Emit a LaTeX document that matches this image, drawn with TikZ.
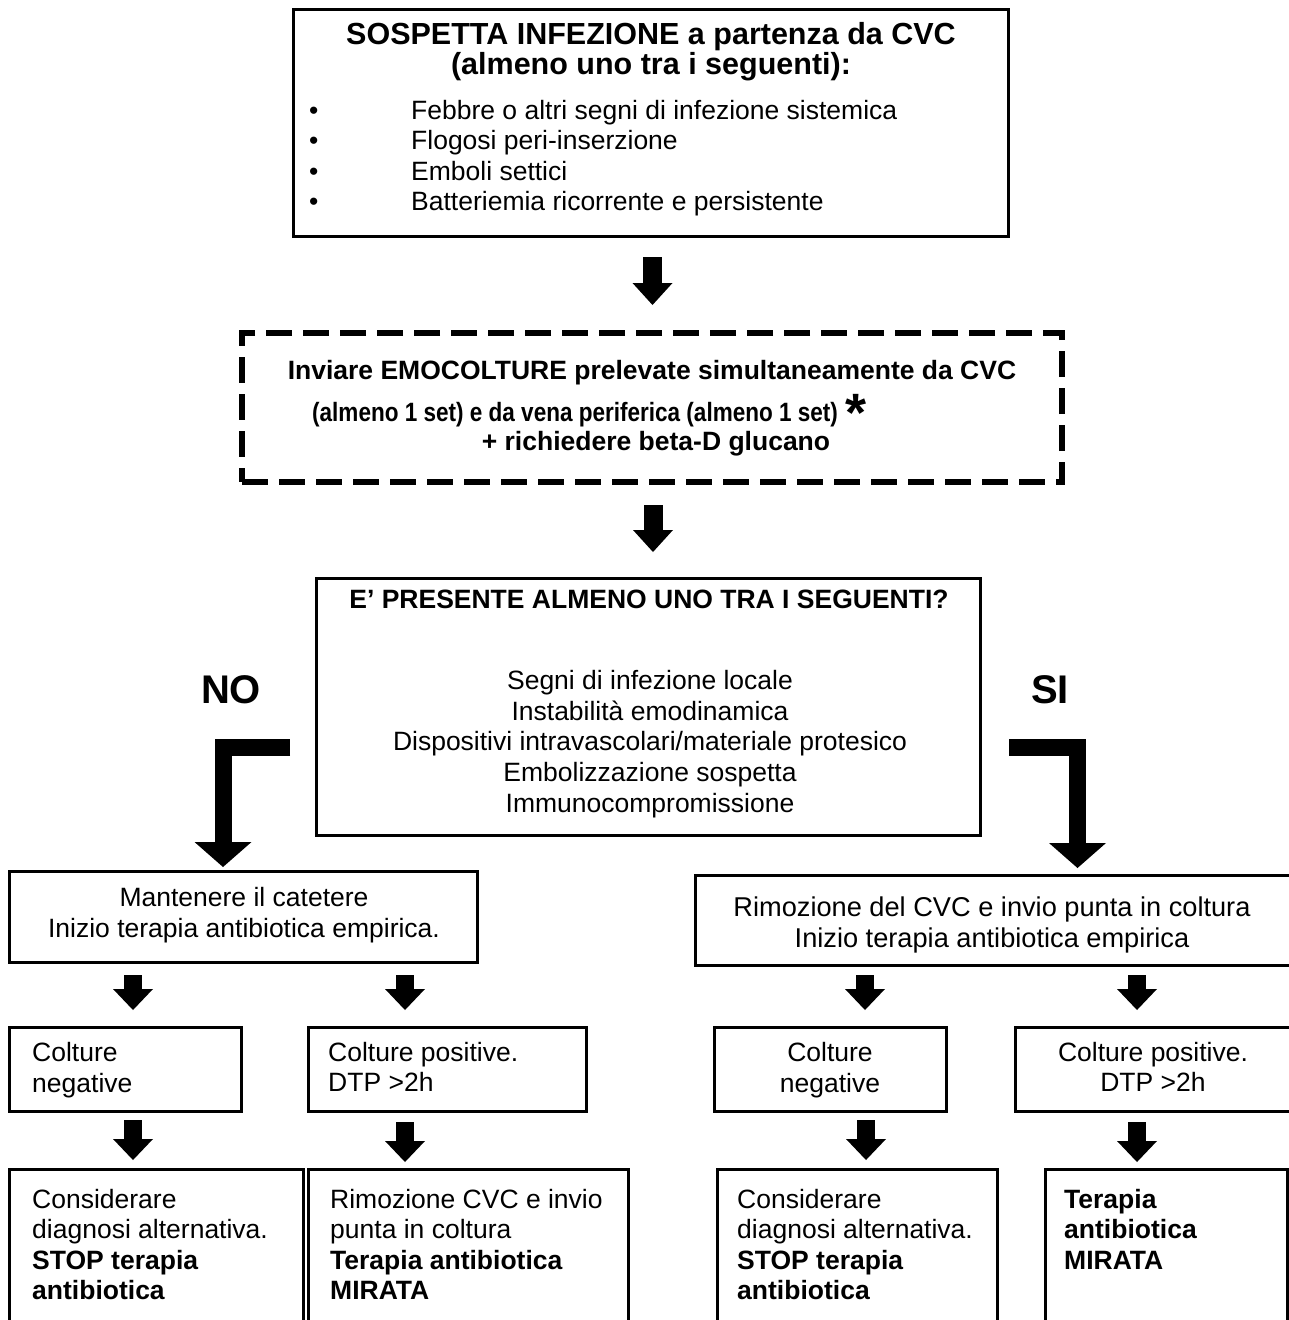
\documentclass[tikz,border=0pt]{standalone}
\usepackage{fontspec}
\setmainfont{Liberation Sans}
\newfontfamily\condfont[FakeStretch=0.85]{Liberation Sans}
\usetikzlibrary{arrows.meta}
\newcommand{\fsz}[2]{\fontsize{#1}{#2}\selectfont}
\begin{document}
\begin{tikzpicture}[x=1pt,y=-1pt,
  box/.style={draw, line width=3pt, inner sep=0pt, outer sep=0pt, anchor=north west},
  dashbox/.style={draw, line width=6pt, dash pattern=on 26pt off 11pt, inner sep=0pt, outer sep=0pt, anchor=north west},
  txt/.style={inner sep=0pt, font=\fsz{26.5}{30.5}},
  btxt/.style={inner sep=0pt, font=\bfseries\fsz{26.5}{30.5}},
  bigarrow/.style={line width=19pt, -{Triangle[width=40pt,length=22pt,line width=0pt]}},
  smallarrow/.style={line width=18pt, -{Triangle[width=40pt,length=21pt,line width=0pt]}},
  elbowarrow/.style={line width=17pt, line join=miter, -{Triangle[width=57pt,length=25pt,line width=0pt]}},
  lbl/.style={inner sep=0pt, font=\bfseries\fsz{40}{44}}
]
\useasboundingbox (0,0) rectangle (1289,1320);

% top box
\node[box, minimum width=715pt, minimum height=227pt] (top) at (293,9) {};
\node[txt, font=\bfseries\fsz{30.5}{30.5}, align=center, anchor=north] (toptitle) at (651,22)
  {SOSPETTA INFEZIONE a partenza da CVC\\(almeno uno tra i seguenti):};
\node[txt, align=left, anchor=north west] (toplist) at (309,100)
  {\makebox[102pt][l]{•}Febbre o altri segni di infezione sistemica\\
   \makebox[102pt][l]{•}Flogosi peri-inserzione\\
   \makebox[102pt][l]{•}Emboli settici\\
   \makebox[102pt][l]{•}Batteriemia ricorrente e persistente};

% dashed box
\node[dashbox, minimum width=820pt, minimum height=149pt] (dash) at (242,333) {};
\node[btxt, anchor=north] (dash1) at (652,360.5) {Inviare EMOCOLTURE prelevate simultaneamente da CVC};
\node[btxt, anchor=base west] (dash2) at (312,421)
  {{\condfont\bfseries\fsz{26.5}{30}(almeno 1 set) e da vena periferica (almeno 1 set)} \raisebox{-10pt}{\fsz{54}{54}*}};
\node[btxt, anchor=north] (dash3) at (656,431.5) {+ richiedere beta-D glucano};

\draw[bigarrow, shorten <=21pt, shorten >=28pt] ([xshift=2pt]top.south) -- ([xshift=2pt]top.south |- dash.north);

% question box
\node[box, minimum width=664pt, minimum height=257pt] (q) at (316,578) {};
\node[btxt, anchor=north] (qtitle) at (649,590)
  {E’ PRESENTE ALMENO UNO TRA I SEGUENTI?};
\node[txt, font=\fsz{26.5}{30.7}, align=center, anchor=north] (qlist) at (650,670)
  {Segni di infezione locale\\Instabilità emodinamica\\Dispositivi intravascolari/materiale protesico\\Embolizzazione sospetta\\Immunocompromissione};

\draw[bigarrow, shorten <=23pt, shorten >=26pt] ([xshift=1pt]dash.south) -- ([xshift=1pt]dash.south |- q.north);

\node[lbl] (no) at (231,690) {NO};
\node[lbl] (si) at (1050,690) {SI};

% middle boxes
\node[box, minimum width=468pt, minimum height=91pt] (ml) at (9,871) {};
\node[txt, align=center] (mlt) at (244,915) {Mantenere il catetere\\Inizio terapia antibiotica empirica.};
\node[box, minimum width=600pt, minimum height=90pt] (mr) at (695,875) {};
\node[txt, font=\fsz{27.2}{31}, align=center] (mrt) at (992,925) {Rimozione del CVC e invio punta in coltura\\Inizio terapia antibiotica empirica};

\coordinate (noS) at (290,747.5);
\coordinate (siS) at (1009,747.5);
\draw[elbowarrow, shorten >=4pt] (noS) -| ([xshift=214pt]ml.north west);
\draw[elbowarrow, shorten >=7pt] (siS) -| ([xshift=382.5pt]mr.north west);

% row 3
\node[box, minimum width=232pt, minimum height=84pt] (ln3) at (9,1027) {};
\node[box, minimum width=278pt, minimum height=84pt] (lp3) at (308,1027) {};
\node[box, minimum width=232pt, minimum height=84pt] (rn3) at (714,1027) {};
\node[box, minimum width=277pt, minimum height=84pt] (rp3) at (1015,1027) {};
\node[txt, align=left, anchor=west] (ln3t) at (32,1070) {Colture\\negative};
\node[txt, align=left, anchor=west] (lp3t) at (328,1067) {Colture positive.\\DTP >2h};
\node[txt, align=center] (rn3t) at (830,1070) {Colture\\negative};
\node[txt, align=center] (rp3t) at (1153,1067) {Colture positive.\\DTP >2h};

\draw[smallarrow, shorten <=13pt, shorten >=17pt] ([xshift=124pt]ml.south west) -- ([xshift=124pt]ml.south west |- ln3.north);
\draw[smallarrow, shorten <=13pt, shorten >=17pt] ([xshift=396pt]ml.south west) -- ([xshift=396pt]ml.south west |- lp3.north);
\draw[smallarrow, shorten <=10pt, shorten >=17pt] ([xshift=170pt]mr.south west) -- ([xshift=170pt]mr.south west |- rn3.north);
\draw[smallarrow, shorten <=10pt, shorten >=17pt] ([xshift=442pt]mr.south west) -- ([xshift=442pt]mr.south west |- rp3.north);

% bottom boxes
\node[box, minimum width=294pt, minimum height=165pt] (lb1) at (9,1169) {};
\node[box, minimum width=320pt, minimum height=165pt] (lb2) at (308,1169) {};
\node[box, minimum width=280pt, minimum height=165pt] (rb1) at (717,1169) {};
\node[box, minimum width=242pt, minimum height=165pt] (rb2) at (1045,1169) {};
\node[txt, align=left, anchor=north west] (lb1t) at (32,1189) {Considerare\\diagnosi alternativa.\\\textbf{STOP terapia}\\\textbf{antibiotica}};
\node[txt, align=left, anchor=north west] (lb2t) at (330,1189) {Rimozione CVC e invio\\punta in coltura\\\textbf{Terapia antibiotica}\\\textbf{MIRATA}};
\node[txt, align=left, anchor=north west] (rb1t) at (737,1189) {Considerare\\diagnosi alternativa.\\\textbf{STOP terapia}\\\textbf{antibiotica}};
\node[txt, align=left, anchor=north west] (rb2t) at (1064,1189) {\textbf{Terapia}\\\textbf{antibiotica}\\\textbf{MIRATA}};

\draw[smallarrow, shorten <=9pt, shorten >=9pt] ([xshift=124pt]ln3.south west) -- ([xshift=124pt]ln3.south west |- lb1.north);
\draw[smallarrow, shorten <=11pt, shorten >=7pt] ([xshift=97pt]lp3.south west) -- ([xshift=97pt]lp3.south west |- lb2.north);
\draw[smallarrow, shorten <=9pt, shorten >=9pt] ([xshift=152pt]rn3.south west) -- ([xshift=152pt]rn3.south west |- rb1.north);
\draw[smallarrow, shorten <=11pt, shorten >=7pt] ([xshift=122pt]rp3.south west) -- ([xshift=122pt]rp3.south west |- rb2.north);
\end{tikzpicture}
\end{document}
